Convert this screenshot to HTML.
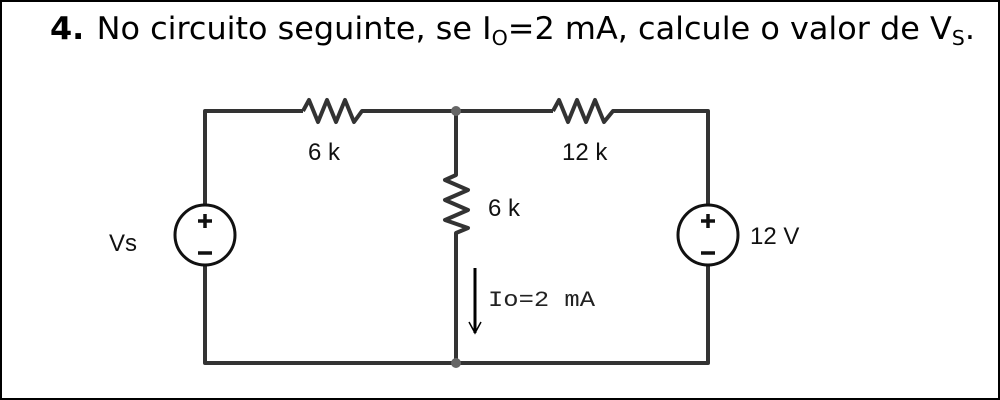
<!DOCTYPE html>
<html><head><meta charset="utf-8"><style>
html,body{margin:0;padding:0;background:#fff;}
#c{position:relative;width:1000px;height:400px;overflow:hidden;}
svg{position:absolute;left:0;top:0;}
</style></head><body><div id="c">
<svg width="1000" height="400" viewBox="0 0 1000 400">
<rect x="1" y="1" width="998" height="398" fill="none" stroke="#000" stroke-width="2"/>
<text x="50" y="39" font-family="'DejaVu Sans',sans-serif" font-size="31" fill="#000" textLength="925" lengthAdjust="spacingAndGlyphs"><tspan font-weight="bold">4.</tspan><tspan dx="12">No circuito seguinte, se I</tspan><tspan font-size="20" dy="6">O</tspan><tspan dy="-6">=2 mA, calcule o valor de V</tspan><tspan font-size="20" dy="6">S</tspan><tspan dy="-6">.</tspan></text>
<g fill="none" stroke="#333" stroke-width="4" stroke-linejoin="round">
<polyline points="205,205 205,111 303,111"/>
<polyline points="303,111 309,100 318,122 327,100 336,122 345,100 354,122 362,111 553,111"/>
<polyline points="553,111 559,100 568,122 577,100 586,122 595,100 604,122 613,111 708,111 708,205"/>
<polyline points="456,111 456,175 445,180 468,190 445,200 468,210 445,220 468,228 456,233 456,363"/>
<polyline points="205,266 205,363 708,363 708,266"/>
</g>
<g fill="none" stroke="#111" stroke-width="3">
<circle cx="205" cy="235" r="30"/>
<circle cx="708" cy="235" r="30"/>
</g>
<g stroke="#111" stroke-width="3.5">
<line x1="198" y1="221" x2="212" y2="221"/><line x1="205" y1="214" x2="205" y2="228"/>
<line x1="198" y1="253" x2="212" y2="253"/>
<line x1="701" y1="221" x2="715" y2="221"/><line x1="708" y1="214" x2="708" y2="228"/>
<line x1="701" y1="253" x2="715" y2="253"/>
</g>
<circle cx="456" cy="111" r="5" fill="#666"/>
<circle cx="456" cy="363" r="5" fill="#666"/>
<line x1="475" y1="268" x2="475" y2="333" stroke="#000" stroke-width="3"/>
<polyline points="469,322 475,333 481,322" fill="none" stroke="#000" stroke-width="1.5"/>
<g font-family="'Liberation Sans',sans-serif" font-size="24" fill="#111">
<text x="308" y="160">6 k</text>
<text x="562" y="160">12 k</text>
<text x="488" y="216">6 k</text>
<text x="750" y="244">12 V</text>
<text x="109" y="251">Vs</text>
</g>
<text x="488" y="306" font-family="'Liberation Mono',monospace" font-size="22" fill="#222" textLength="107" lengthAdjust="spacingAndGlyphs">Io=2 mA</text>
</svg>
</div></body></html>
